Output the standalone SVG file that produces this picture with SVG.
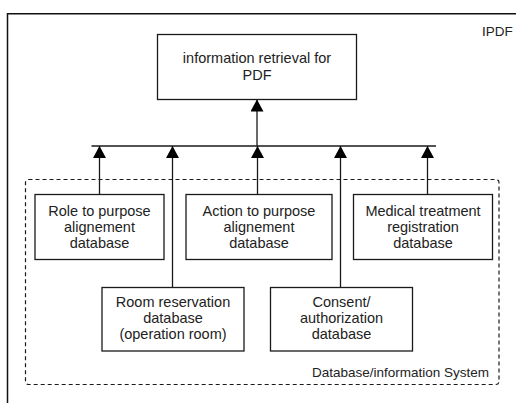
<svg xmlns="http://www.w3.org/2000/svg" width="516" height="403" viewBox="0 0 516 403">
  <style>
    .box { fill: #fff; stroke: #1a1a1a; stroke-width: 1.3; }
    .lbl { font-family: "Liberation Sans", Arial, sans-serif; font-size: 14.5px; fill: #222; text-anchor: middle; }
    .small { font-family: "Liberation Sans", Arial, sans-serif; font-size: 13.5px; fill: #222; }
    .wire { fill: none; stroke: #1a1a1a; stroke-width: 1.3; }
  </style>
  <defs>
    <marker id="tri" viewBox="0 0 12 13" refX="12" refY="6.5" markerWidth="12" markerHeight="13" markerUnits="userSpaceOnUse" orient="auto">
      <path d="M0,0 L12,6.5 L0,13 z" fill="#000"/>
    </marker>
  </defs>

  <rect width="516" height="403" fill="#fff"/>

  <!-- outer frame (open on the right and bottom) -->
  <path d="M7.5,403 V13.75 H516" fill="none" stroke="#111" stroke-width="1.5"/>
  <text class="small" x="482" y="36">IPDF</text>

  <!-- database / information system boundary -->
  <g id="db-system">
    <rect x="25.5" y="179.5" width="473.5" height="205" rx="3" ry="3" fill="none" stroke="#1a1a1a" stroke-width="1.2" stroke-dasharray="4 3"/>
    <text class="small" x="312" y="377">Database/information System</text>
  </g>

  <!-- connectors -->
  <g id="connectors">
    <path class="wire" d="M91.5,146 H436"/>
    <path class="wire" d="M257,146 V99.5" marker-end="url(#tri)"/>
    <path class="wire" d="M99.5,194 V146" marker-end="url(#tri)"/>
    <path class="wire" d="M172.5,287 V146" marker-end="url(#tri)"/>
    <path class="wire" d="M257.5,194 V146" marker-end="url(#tri)"/>
    <path class="wire" d="M340.5,287 V146" marker-end="url(#tri)"/>
    <path class="wire" d="M427.5,194 V146" marker-end="url(#tri)"/>
  </g>

  <g id="info-retrieval">
    <rect class="box" x="157.5" y="34.5" width="199" height="65"/>
    <text class="lbl" x="257" y="63">information retrieval for</text>
    <text class="lbl" x="257" y="80">PDF</text>
  </g>

  <g id="role-db">
    <rect class="box" x="35" y="194.5" width="129" height="65"/>
    <text class="lbl" x="99.5" y="216">Role to purpose</text>
    <text class="lbl" x="99.5" y="232">alignement</text>
    <text class="lbl" x="99.5" y="248">database</text>
  </g>

  <g id="action-db">
    <rect class="box" x="186" y="194.5" width="146" height="65"/>
    <text class="lbl" x="259" y="216">Action to purpose</text>
    <text class="lbl" x="259" y="232">alignement</text>
    <text class="lbl" x="259" y="248">database</text>
  </g>

  <g id="medical-db">
    <rect class="box" x="353.5" y="194.5" width="139" height="65"/>
    <text class="lbl" x="423" y="216">Medical treatment</text>
    <text class="lbl" x="423" y="232">registration</text>
    <text class="lbl" x="423" y="248">database</text>
  </g>

  <g id="room-db">
    <rect class="box" x="102" y="287.5" width="142" height="63.5"/>
    <text class="lbl" x="173" y="307">Room reservation</text>
    <text class="lbl" x="173" y="323">database</text>
    <text class="lbl" x="173" y="339">(operation room)</text>
  </g>

  <g id="consent-db">
    <rect class="box" x="270.5" y="287.5" width="142" height="63.5"/>
    <text class="lbl" x="341.5" y="307">Consent/</text>
    <text class="lbl" x="341.5" y="323">authorization</text>
    <text class="lbl" x="341.5" y="339">database</text>
  </g>
</svg>
